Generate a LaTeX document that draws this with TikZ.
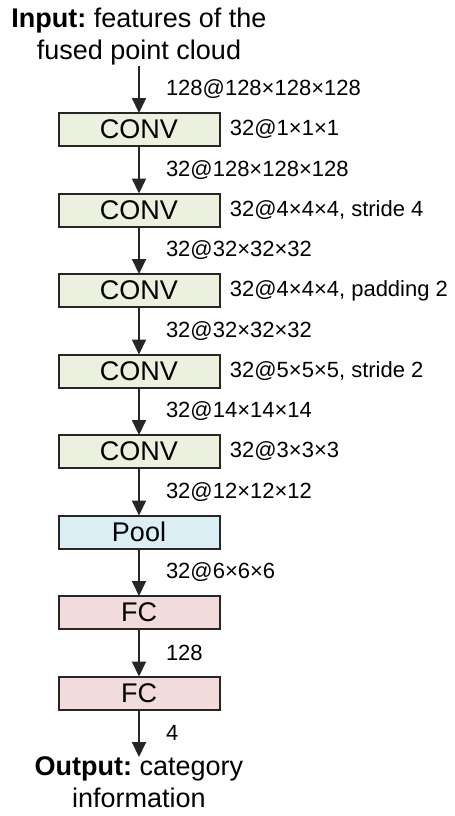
\documentclass[tikz,border=0pt]{standalone}
\usepackage{fontspec}
\setmainfont{Liberation Sans}
\usetikzlibrary{arrows.meta,positioning}

\definecolor{convgreen}{HTML}{EBF1DE}
\definecolor{poolblue}{HTML}{DAEEF3}
\definecolor{fcpink}{HTML}{F2DCDB}
\definecolor{edgegray}{HTML}{262626}

\begin{document}
\frenchspacing
\begin{tikzpicture}[
    x=1pt, y=1pt,
    node distance=23.75pt,
    layer/.style={rectangle, draw=edgegray, line width=1pt, outer sep=0pt, minimum width=80.5pt, minimum height=16.5pt, inner sep=0pt, font=\fontsize{13.5}{15}\selectfont},
    convbox/.style={layer, fill=convgreen},
    poolbox/.style={layer, fill=poolblue},
    fcbox/.style={layer, fill=fcpink},
    endtext/.style={align=center, inner sep=0pt, outer sep=0pt, font=\fontsize{13.5}{16}\selectfont},
    arrow/.style={line width=1pt, draw=edgegray, -{Triangle[width=7pt, length=7.5pt]}},
    dimlabel/.style={midway, right=13pt, inner sep=0pt, font=\fontsize{11}{13}\selectfont},
    parlabel/.style={right=5pt, inner sep=0pt, font=\fontsize{11}{13}\selectfont}
]
    \useasboundingbox (0,0) rectangle (227.5,-408);

    % layers
    \node[convbox] (conv1) at (69.5,-64.75) {CONV};
    \node[convbox, below=of conv1] (conv2) {CONV};
    \node[convbox, below=of conv2] (conv3) {CONV};
    \node[convbox, below=of conv3] (conv4) {CONV};
    \node[convbox, below=of conv4] (conv5) {CONV};
    \node[poolbox, below=of conv5] (pool) {Pool};
    \node[fcbox, below=of pool] (fc1) {FC};
    \node[fcbox, below=of fc1] (fc2) {FC};

    % input and output
    \node[endtext, above=of conv1] (input) {\textbf{Input:} features of the\\fused point cloud};
    \node[endtext, below=of fc2] (output) {\textbf{Output:} category\\information};

    % kernel parameters
    \node[parlabel] (par1) at (conv1.east) {32@1×1×1};
    \node[parlabel] (par2) at (conv2.east) {32@4×4×4, stride 4};
    \node[parlabel] (par3) at (conv3.east) {32@4×4×4, padding 2};
    \node[parlabel] (par4) at (conv4.east) {32@5×5×5, stride 2};
    \node[parlabel] (par5) at (conv5.east) {32@3×3×3};

    % data flow
    \draw[arrow] (input) -- node[dimlabel] {128@128×128×128} (conv1);
    \draw[arrow] (conv1) -- node[dimlabel] {32@128×128×128} (conv2);
    \draw[arrow] (conv2) -- node[dimlabel] {32@32×32×32} (conv3);
    \draw[arrow] (conv3) -- node[dimlabel] {32@32×32×32} (conv4);
    \draw[arrow] (conv4) -- node[dimlabel] {32@14×14×14} (conv5);
    \draw[arrow] (conv5) -- node[dimlabel] {32@12×12×12} (pool);
    \draw[arrow] (pool) -- node[dimlabel] {32@6×6×6} (fc1);
    \draw[arrow] (fc1) -- node[dimlabel] {128} (fc2);
    \draw[arrow] (fc2) -- node[dimlabel] {4} (output);
\end{tikzpicture}
\end{document}
